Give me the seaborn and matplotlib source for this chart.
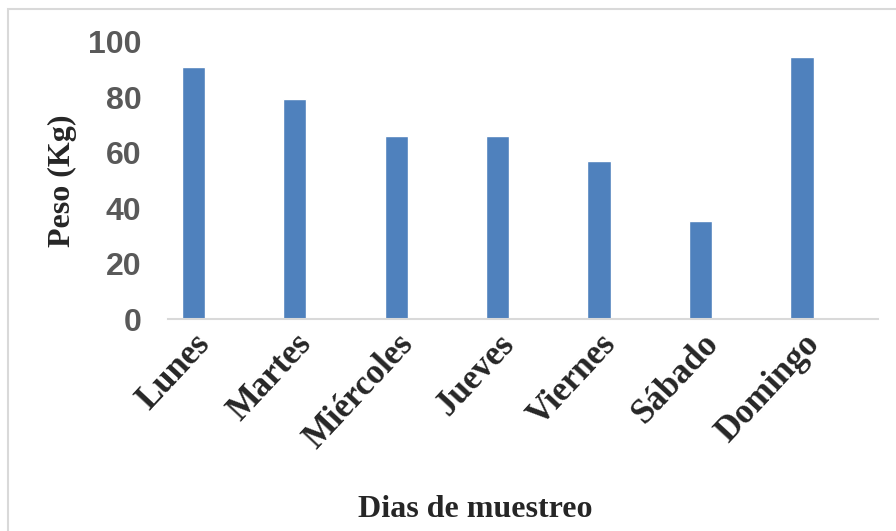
import seaborn as sns
import matplotlib.pyplot as plt
import pandas as pd
from matplotlib.patches import Rectangle

# weight collected per sampling day
dias = ["Lunes", "Martes", "Miércoles", "Jueves", "Viernes", "Sábado", "Domingo"]
peso = [91, 79.5, 66, 66, 57, 35.3, 94.4]

df = pd.DataFrame({"Dia": dias, "Peso": peso})

sns.set_style("white")

fig = plt.figure(figsize=(8.96, 5.31), dpi=100)
ax = fig.add_axes([0.1875, 0.3987, 0.7925, 0.5228])

sns.barplot(data=df, x="Dia", y="Peso", color="#4f81bd", width=0.23, ax=ax,
            saturation=1)

ax.set_ylim(0, 100)
ax.set_xlim(-0.25, 6.75)
ax.set_yticks([0, 20, 40, 60, 80, 100])
ax.tick_params(axis="y", length=0, pad=19, labelsize=23, labelcolor="#595959")
ax.tick_params(axis="x", length=0, pad=6)
for t in ax.get_yticklabels():
    t.set_fontweight("bold")
    t.set_family("Liberation Sans")

ax.set_xticks(range(len(dias)))
ax.set_xticklabels(dias, rotation=47, ha="right", rotation_mode="anchor",
                   family="Liberation Serif", fontweight="bold", fontsize=25)

for side in ["top", "right", "left"]:
    ax.spines[side].set_visible(False)
ax.spines["bottom"].set_color("#d9d9d9")
ax.spines["bottom"].set_linewidth(1.5)

ax.set_xlabel("")
ax.set_ylabel("Peso (Kg)", family="Liberation Serif", fontweight="bold",
              fontsize=23, labelpad=8)

fig.text(0.53, 0.04, "Dias de muestreo", ha="center", va="center",
         family="Liberation Serif", fontweight="bold", fontsize=23)

# light border around the chart area
fig.patches.append(Rectangle((0.009, -0.01), 1.0, 0.993, transform=fig.transFigure,
                             fill=False, edgecolor="#d9d9d9", linewidth=1.5))

fig.savefig("out.png", dpi=100)
